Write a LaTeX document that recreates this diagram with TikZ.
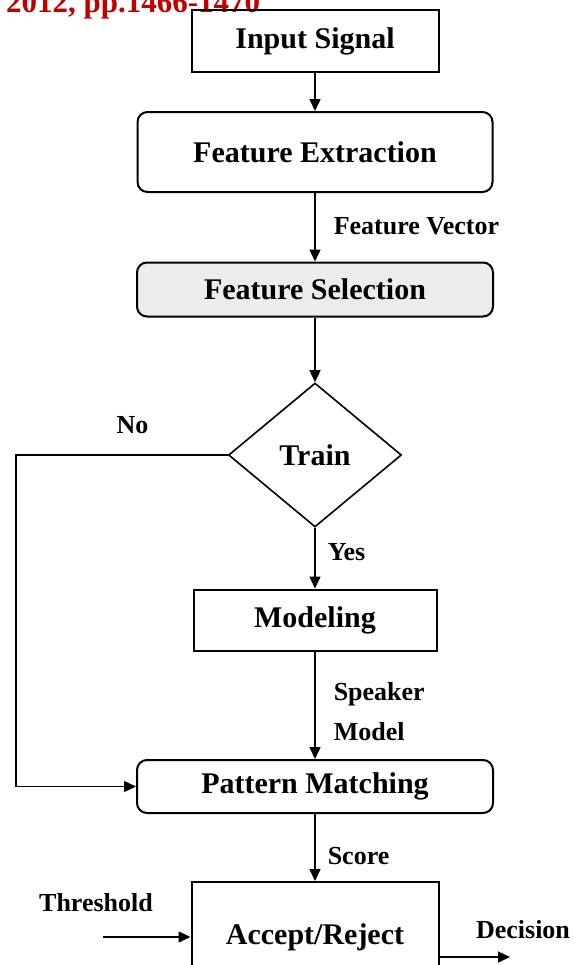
\documentclass[tikz,border=0pt]{standalone}
\usepackage{fontspec}
\setmainfont{Liberation Serif}
\usepackage{tikz}
\usetikzlibrary{positioning}
\usetikzlibrary{arrows.meta}
\usetikzlibrary{shapes.geometric}
\definecolor{hdrred}{RGB}{192,0,0}
\definecolor{selgray}{RGB}{236,236,236}
\tikzset{node distance=80pt,
>={Triangle[length=6pt,width=5.5pt]},
box/.style={
rectangle,
draw,
line width=1pt,
inner sep=0pt,
font=\fontsize{15}{18}\selectfont\bfseries},
rbox/.style={box, rounded corners=5pt},
decision/.style={
diamond,
draw,
line width=0.8pt,
inner sep=0pt,
font=\fontsize{15}{18}\selectfont\bfseries},
lbl/.style={
anchor=west,
align=left,
inner sep=0pt,
font=\fontsize{13}{20}\selectfont\bfseries},
every edge/.style={
draw,
->,
line width=0.75pt}}

\begin{document}
\begin{tikzpicture}[x=0.5pt, y=-0.5pt]
\useasboundingbox (0,0) rectangle (575,965);
\node[anchor=base west, text=hdrred, font=\fontsize{15.5}{18}\selectfont\bfseries] (hdr) at (-1,12) {2012, pp.1466-1470};
% main column
\node[box, minimum width=123.5pt, minimum height=31pt] (in) at (315,41) {Input Signal};
\node[rbox, minimum width=177.5pt, minimum height=40pt, below of=in, node distance=55.5pt] (fe) {Feature Extraction};
\node[rbox, fill=selgray, minimum width=178pt, minimum height=27pt, below of=fe, node distance=68.75pt] (fs) {Feature Selection};
\node[decision, minimum width=86.5pt, minimum height=72pt, below of=fs, node distance=82.75pt] (train) {Train};
\node[box, minimum width=121.5pt, minimum height=30.5pt, below of=train, node distance=82.5pt] (model) {Modeling};
\node[rbox, minimum width=178pt, minimum height=26.5pt, below of=model, node distance=83.25pt] (pm) {Pattern Matching};
\node[box, minimum width=123.5pt, minimum height=55pt, below of=pm, node distance=75.25pt] (ar) {Accept/Reject};
% free ends
\coordinate (nocorner) at (16,455);
\coordinate (thrin) at (103,937);
\coordinate (decout) at (510,957);
\draw (in) edge (fe);
\draw (fe) edge node[lbl, xshift=9pt, pos=0.48] {Feature Vector} (fs);
\draw (fs) edge (train);
\draw (train) edge node[lbl, xshift=6pt, pos=0.4] {Yes} (model);
\draw (model) edge node[lbl, xshift=9pt, pos=0.56] {Speaker\\Model} (pm);
\draw (pm) edge node[lbl, xshift=6pt, pos=0.63] {Score} (ar);
\draw[->, line width=0.75pt] (train.west) -- node[above=7pt, pos=0.45, font=\fontsize{13}{16}\selectfont\bfseries] {No} (nocorner) |- (pm.west);
\draw (thrin) edge (ar.west);
\node[font=\fontsize{13}{16}\selectfont\bfseries] (thr) at (96,903) {Threshold};
\draw ([yshift=-10pt]ar.east) edge (decout);
\node[font=\fontsize{13}{16}\selectfont\bfseries, anchor=west] (dec) at (469,930) {Decision};
\end{tikzpicture}
\end{document}
